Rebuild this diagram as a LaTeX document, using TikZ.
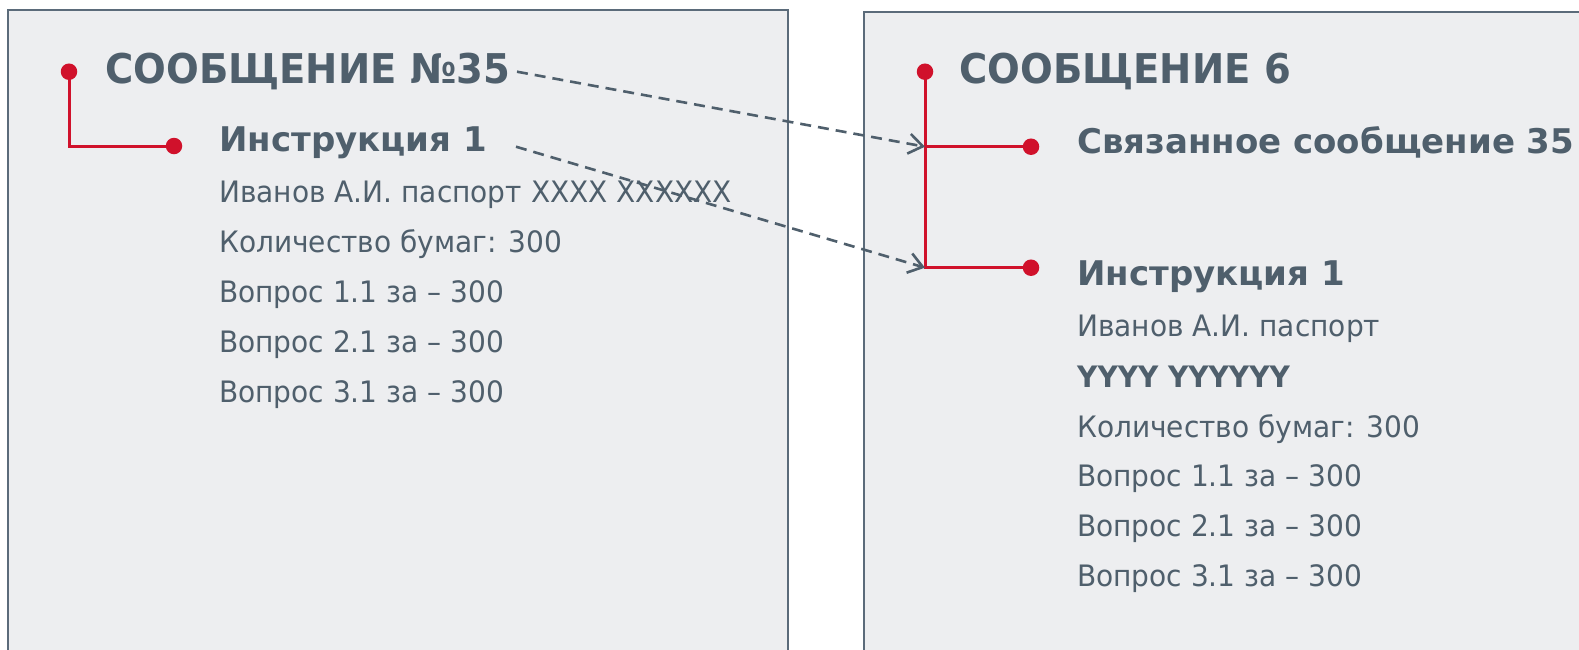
\documentclass[tikz,border=0pt]{standalone}
\usepackage{fontspec}
\setmainfont{DejaVu Sans}
\newfontfamily\titlefont{DejaVu Sans}[FakeStretch=0.94]
\newfontfamily\bodyfont{DejaVu Sans}[FakeStretch=0.95]
\usetikzlibrary{arrows.meta}
\definecolor{txt}{HTML}{4F5F6C}
\definecolor{boxfill}{HTML}{EDEEF0}
\definecolor{boxline}{HTML}{5B6B7A}
\definecolor{redline}{HTML}{D0112B}
\begin{document}
\begin{tikzpicture}[x=1pt,y=-1pt,
  panel/.style={draw=boxline, line width=1.5pt, fill=boxfill},
  titletext/.style={anchor=base west, inner sep=0pt, text=txt, font=\titlefont\fontsize{41}{41}\selectfont\bfseries},
  headtext/.style={anchor=base west, inner sep=0pt, text=txt, font=\fontsize{34}{34}\selectfont\bfseries},
  bodytext/.style={anchor=base west, inner sep=0pt, text=txt, font=\bodyfont\fontsize{29.5}{29.5}\selectfont},
  bodybold/.style={bodytext, font=\bodyfont\fontsize{29.5}{29.5}\selectfont\bfseries},
  reddot/.style={circle, fill=redline, inner sep=0pt, minimum size=16.5pt},
  tree/.style={draw=redline, line width=3pt},
  link/.style={draw=txt, line width=2.6pt, dash pattern=on 11pt off 7pt, -{Straight Barb[length=14pt,width=20pt]}}
]
\useasboundingbox (0,0) rectangle (1579,649);
\clip (0,0) rectangle (1579,649);
% panels
\draw[panel] (8,10) rectangle (788,670);
\draw[panel] (864,12) rectangle (1600,670);

% left panel
\node[titletext] (lt) at (105,83.3) {СООБЩЕНИЕ №35};
\node[headtext] (lh) at (219,151.7) {Инструкция 1};
\node[bodytext] (l1) at (219,202) {Иванов А.И. паспорт XXXX XXXXXX};
\node[bodytext] (l2) at (219,252) {Количество бумаг: 300};
\node[bodytext] (l3) at (219,302) {Вопрос 1.1 за – 300};
\node[bodytext] (l4) at (219,352) {Вопрос 2.1 за – 300};
\node[bodytext] (l5) at (219,402) {Вопрос 3.1 за – 300};
\node[reddot] (ld1) at (69,71.7) {};
\node[reddot] (ld2) at (174,146) {};
\draw[tree] (ld1.center) |- (ld2.center);

% right panel
\node[titletext] (rt) at (959,83.3) {СООБЩЕНИЕ 6};
\node[headtext] (rh1) at (1077,153.3) {Связанное сообщение 35};
\node[headtext] (rh2) at (1077,285) {Инструкция 1};
\node[bodytext] (r1) at (1077,336.7) {Иванов А.И. паспорт};
\node[bodybold] (r2) at (1077,387) {YYYY YYYYYY};
\node[bodytext] (r3) at (1077,437) {Количество бумаг: 300};
\node[bodytext] (r4) at (1077,486.7) {Вопрос 1.1 за – 300};
\node[bodytext] (r5) at (1077,536.7) {Вопрос 2.1 за – 300};
\node[bodytext] (r6) at (1077,586.7) {Вопрос 3.1 за – 300};
\node[reddot] (rd0) at (925,71.7) {};
\node[reddot] (rd1) at (1031,146.7) {};
\node[reddot] (rd2) at (1031,267.7) {};
\coordinate (j1) at (rd0.center |- rd1.center);
\coordinate (j2) at (rd0.center |- rd2.center);
\draw[tree] (rd0.center) -- (j2) -- (rd2.center);
\draw[tree] (j1) -- (rd1.center);

% links
\coordinate (s1) at (517,71.7);
\coordinate (s2) at (516,146.7);
\draw[link] (s1) -- (j1);
\draw[link] (s2) -- (j2);
\end{tikzpicture}
\end{document}
